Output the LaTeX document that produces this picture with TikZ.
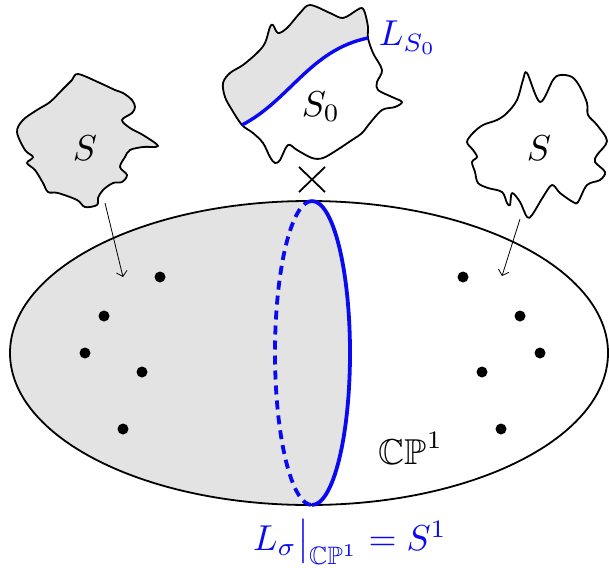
\documentclass[tikz,border=0pt]{standalone}
\usepackage{amssymb}
\usetikzlibrary{arrows.meta}
\definecolor{lgray}{gray}{0.89}
\definecolor{lblue}{RGB}{10,10,240}
\tikzset{
  outline/.style={line width=1.8pt, line join=round},
  bigtext/.style={scale=3.6, inner sep=0pt},
  dot/.style={circle, fill=black, minimum size=11pt, inner sep=0pt},
  mapsto/.style={line width=0.8pt, -{Straight Barb[length=5pt,width=11pt,line width=0.8pt]}},
  bluel/.style={lblue, line width=3.8pt},
}
\begin{document}
\begin{tikzpicture}[x=1pt,y=-1pt]
\useasboundingbox (0,0) rectangle (609,567);

% ---------- big ellipse ----------
\begin{scope}
  \clip (309,353) ellipse [x radius=299, y radius=152];
  \fill[lgray] (312,150) -- (312,201) arc[start angle=-90, end angle=90, x radius=38, y radius=152] -- (312,570) -- (0,570) -- (0,150) -- cycle;
\end{scope}
\draw[outline] (309,353) ellipse [x radius=299, y radius=152];
\draw[bluel, dash pattern=on 9pt off 6pt] (312,201) arc[start angle=-90, end angle=-270, x radius=37, y radius=152];
\draw[bluel] (312,201) arc[start angle=-90, end angle=90, x radius=38, y radius=152];

% ---------- dots ----------
\node[dot] (l1) at (160,277) {};
\node[dot] (l2) at (104,316) {};
\node[dot] (l3) at (85,353) {};
\node[dot] (l4) at (142,372) {};
\node[dot] (l5) at (123,429) {};
\node[dot] (r1) at (463,277) {};
\node[dot] (r2) at (520,316) {};
\node[dot] (r3) at (540,353) {};
\node[dot] (r4) at (482,372) {};
\node[dot] (r5) at (501,429) {};

% ---------- left blob ----------
\fill[lgray] plot[smooth cycle, tension=0.55] coordinates {(78,74) (100,83) (115,90) (123,93) (132,100) (135,107) (132,113) (122,120) (130,128) (143,135) (158,146) (143,147) (130,150) (125,157) (120,167) (127,175) (122,182) (113,183) (103,190) (98,198) (97,205) (85,207) (77,200) (58,193) (48,192) (43,183) (35,170) (27,163) (33,157) (25,150) (17,132) (23,120) (37,110) (50,102) (62,90) (72,80)};
\draw[outline] plot[smooth cycle, tension=0.55] coordinates {(78,74) (100,83) (115,90) (123,93) (132,100) (135,107) (132,113) (122,120) (130,128) (143,135) (158,146) (143,147) (130,150) (125,157) (120,167) (127,175) (122,182) (113,183) (103,190) (98,198) (97,205) (85,207) (77,200) (58,193) (48,192) (43,183) (35,170) (27,163) (33,157) (25,150) (17,132) (23,120) (37,110) (50,102) (62,90) (72,80)};
\node[bigtext] (sl) at (85,148) {$S$};

% ---------- right blob ----------
\draw[outline] plot[smooth cycle, tension=0.55] coordinates {(527,73) (540,102) (553,80) (560,75) (572,77) (580,87) (587,103) (588,115) (597,125) (607,141) (597,155) (595,162) (605,172) (600,180) (587,185) (578,202) (573,202) (560,193) (552,185) (543,197) (532,215) (527,217) (520,202) (512,193) (510,205) (507,203) (502,192) (488,188) (478,183) (475,172) (472,162) (477,157) (473,150) (467,142) (473,133) (483,125) (497,120) (507,113) (517,100) (523,80)};
\node[bigtext] (sr) at (539,148) {$S$};

% ---------- top blob ----------
\begin{scope}
  \clip plot[smooth cycle, tension=0.55] coordinates {(300,13) (310,5) (330,13) (343,18) (357,10) (362,8) (365,13) (368,27) (368,38) (373,53) (382,70) (377,82) (378,90) (392,97) (402,102) (395,107) (382,110) (370,123) (362,133) (352,140) (337,150) (323,158) (312,158) (297,150) (288,145) (280,160) (275,163) (270,157) (263,143) (253,133) (242,125) (232,110) (225,97) (223,83) (230,73) (243,65) (257,53) (265,43) (270,27) (273,25) (278,33) (287,28)};
  \fill[lgray] (242,125) .. controls (290,100) and (310,50) .. (368,38) -- (385,30) -- (385,-5) -- (200,-5) -- (200,140) -- cycle;
\end{scope}
\draw[outline] plot[smooth cycle, tension=0.55] coordinates {(300,13) (310,5) (330,13) (343,18) (357,10) (362,8) (365,13) (368,27) (368,38) (373,53) (382,70) (377,82) (378,90) (392,97) (402,102) (395,107) (382,110) (370,123) (362,133) (352,140) (337,150) (323,158) (312,158) (297,150) (288,145) (280,160) (275,163) (270,157) (263,143) (253,133) (242,125) (232,110) (225,97) (223,83) (230,73) (243,65) (257,53) (265,43) (270,27) (273,25) (278,33) (287,28)};
\coordinate (lsa) at (242,125);
\coordinate (lsb) at (368,38);
\draw[lblue, line width=3.4pt] (lsa) .. controls (290,100) and (310,50) .. (lsb);
\node[bigtext] (s0) at (321,107) {$S_0$};
\node[bigtext, lblue] (ls0) at (408,38) {$L_{S_0}$};

% ---------- cross ----------
\coordinate (x1) at (299,167);
\coordinate (x2) at (325,192);
\coordinate (x3) at (299,192);
\coordinate (x4) at (325,167);
\draw[line width=1.8pt] (x1) -- (x2);
\draw[line width=1.8pt] (x3) -- (x4);

% ---------- arrows ----------
\coordinate (al0) at (105,203);
\coordinate (al1) at (123,277);
\coordinate (ar0) at (520,219);
\coordinate (ar1) at (502,276);
\draw[mapsto] (al0) -- (al1);
\draw[mapsto] (ar0) -- (ar1);

% ---------- labels ----------
\node[bigtext] (cp) at (411,448) {$\mathbb{CP}^1$};
\node[bigtext, lblue] (lsig) at (350,542) {$L_\sigma\big|_{\mathbb{CP}^1}=S^1$};
\end{tikzpicture}
\end{document}
